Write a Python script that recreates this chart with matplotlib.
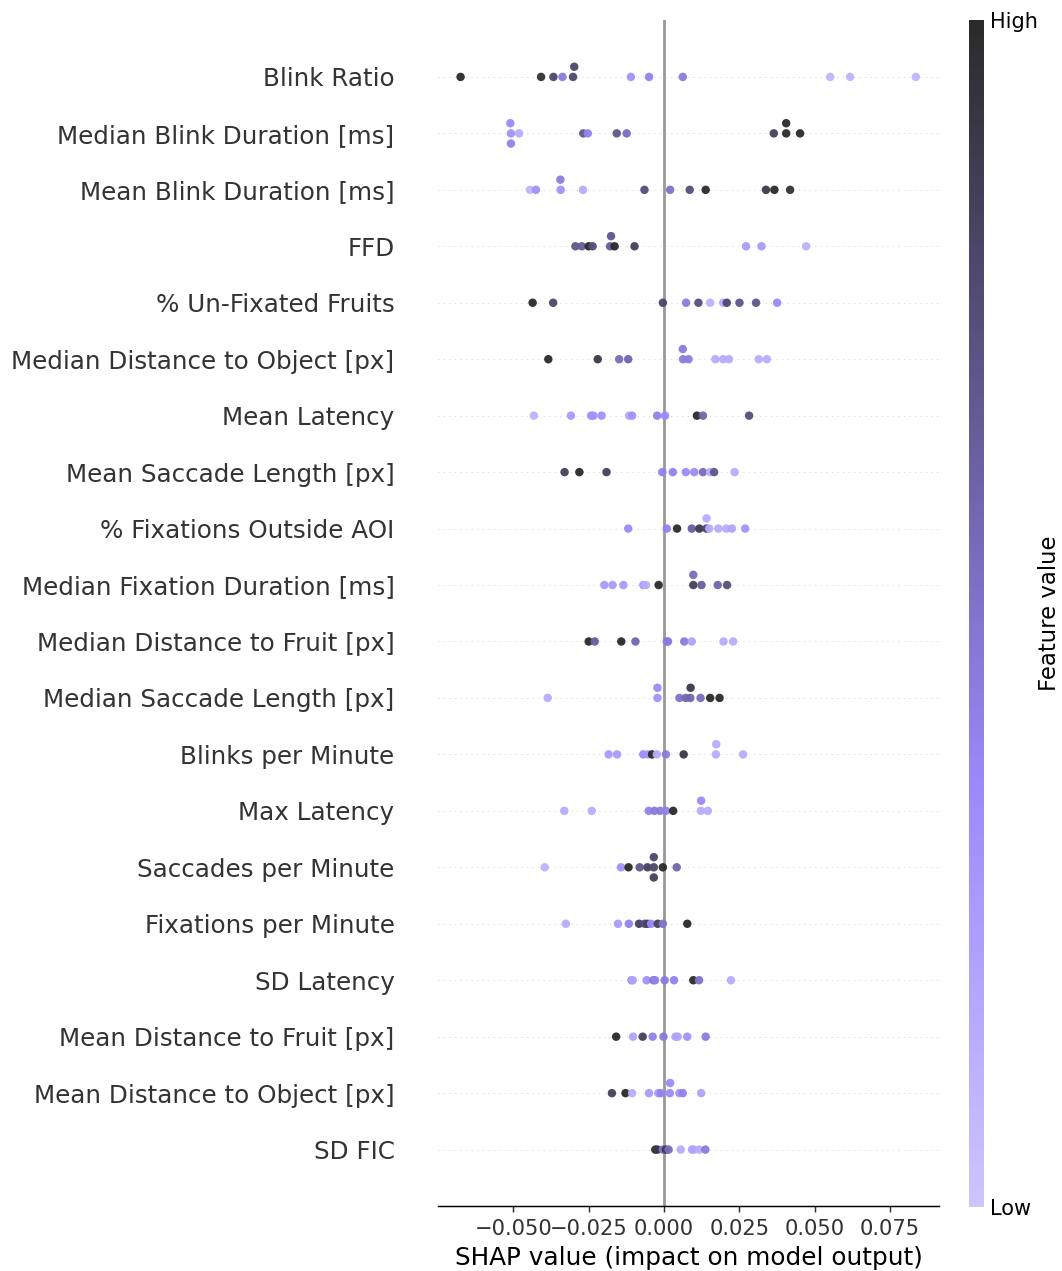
import numpy as np
import matplotlib
matplotlib.use("Agg")
import matplotlib.pyplot as plt
from matplotlib.colors import LinearSegmentedColormap

features = [
    "Blink Ratio", "Median Blink Duration [ms]", "Mean Blink Duration [ms]", "FFD",
    "% Un-Fixated Fruits", "Median Distance to Object [px]", "Mean Latency",
    "Mean Saccade Length [px]", "% Fixations Outside AOI", "Median Fixation Duration [ms]",
    "Median Distance to Fruit [px]", "Median Saccade Length [px]", "Blinks per Minute",
    "Max Latency", "Saccades per Minute", "Fixations per Minute", "SD Latency",
    "Mean Distance to Fruit [px]", "Mean Distance to Object [px]", "SD FIC",
]

# shap values per feature (same order as features)
shap_vals = [
    [-0.0675, -0.0408, -0.0367, -0.0337, -0.0302, -0.0298, -0.011, -0.005, 0.0062, 0.0551, 0.0617, 0.0835],
    [-0.0508, -0.0510, -0.0508, -0.0481, -0.0268, -0.0253, -0.0157, -0.0124, 0.0364, 0.0405, 0.0405, 0.0451],
    [-0.0445, -0.0425, -0.0343, -0.0344, -0.0269, -0.0065, 0.002, 0.0085, 0.0138, 0.0338, 0.0366, 0.0418],
    [-0.0294, -0.0273, -0.025, -0.0237, -0.0179, -0.0176, -0.0164, -0.0098, 0.0272, 0.0323, 0.0471],
    [-0.0436, -0.0368, -0.0004, 0.0073, 0.0114, 0.0153, 0.0196, 0.0208, 0.025, 0.0305, 0.0375],
    [-0.0384, -0.022, -0.0149, -0.0119, 0.0063, 0.0062, 0.0081, 0.017, 0.0196, 0.0215, 0.0314, 0.0341],
    [-0.0432, -0.0309, -0.0242, -0.0234, -0.0207, -0.0116, -0.0106, -0.0023, 0.0003, 0.0109, 0.0129, 0.0282],
    [-0.033, -0.0281, -0.0191, -0.0006, 0.0029, 0.0072, 0.01, 0.0129, 0.0153, 0.0166, 0.0234],
    [-0.0119, 0.0009, 0.0043, 0.0092, 0.0117, 0.0140, 0.0141, 0.015, 0.018, 0.0206, 0.0225, 0.0269],
    [-0.0198, -0.0171, -0.0135, -0.0069, -0.006, -0.0018, 0.0097, 0.0097, 0.0124, 0.0178, 0.0209],
    [-0.025, -0.023, -0.0142, -0.0095, 0.0009, 0.0013, 0.0067, 0.0092, 0.0197, 0.0229],
    [-0.0386, -0.0022, -0.0022, 0.0051, 0.0072, 0.0087, 0.0088, 0.0121, 0.0153, 0.0184],
    [-0.0184, -0.0156, -0.0069, -0.0053, -0.004, -0.0024, 0.0006, 0.0065, 0.0172, 0.0173, 0.0262],
    [-0.0331, -0.024, -0.0051, -0.0032, -0.0013, 0.0006, 0.003, 0.0122, 0.0123, 0.0145],
    [-0.0396, -0.0143, -0.0118, -0.0081, -0.0055, -0.0034, -0.0034, -0.0034, -0.0004, 0.0042],
    [-0.0326, -0.0153, -0.0117, -0.0083, -0.0064, -0.0055, -0.0043, -0.0021, -0.0004, 0.0077],
    [-0.0108, -0.0104, -0.0058, -0.0035, -0.003, 0.0002, 0.0033, 0.0097, 0.0116, 0.0222],
    [-0.0159, -0.0103, -0.0071, -0.0038, -0.0002, 0.0038, 0.0045, 0.0077, 0.0138],
    [-0.0173, -0.0128, -0.0106, -0.005, -0.0019, -0.0011, 0.0019, 0.0020, 0.0051, 0.0062, 0.0123],
    [-0.0029, -0.0022, -0.0004, 0.0006, 0.0015, 0.0055, 0.0093, 0.0098, 0.0116, 0.0137],
]

# normalised feature values (0 = low, 1 = high)
feat_vals = [
    [1.0, 0.95, 0.8, 0.45, 0.8, 0.8, 0.3, 0.4, 0.45, 0.1, 0.1, 0.1],
    [0.3, 0.35, 0.4, 0.15, 0.7, 0.4, 0.7, 0.55, 0.85, 1.0, 1.0, 1.0],
    [0.1, 0.3, 0.3, 0.45, 0.15, 0.75, 0.5, 0.75, 1.0, 0.9, 1.0, 0.95],
    [0.7, 0.65, 1.0, 0.75, 0.65, 0.7, 1.0, 0.85, 0.25, 0.25, 0.12],
    [1.0, 0.8, 0.8, 0.45, 0.75, 0.12, 0.15, 0.8, 0.7, 0.7, 0.35],
    [1.0, 0.9, 0.55, 0.6, 0.45, 0.45, 0.45, 0.15, 0.15, 0.15, 0.15, 0.15],
    [0.1, 0.25, 0.3, 0.3, 0.3, 0.15, 0.3, 0.4, 0.35, 1.0, 0.6, 0.75],
    [0.85, 1.0, 0.85, 0.4, 0.4, 0.35, 0.35, 0.55, 0.15, 0.7, 0.15],
    [0.35, 0.4, 1.0, 0.65, 0.9, 0.8, 0.15, 0.15, 0.15, 0.15, 0.2, 0.3],
    [0.25, 0.25, 0.25, 0.25, 0.15, 1.0, 0.85, 0.55, 0.65, 0.6, 0.75],
    [1.0, 0.65, 1.0, 0.6, 0.45, 0.45, 0.45, 0.2, 0.15, 0.15],
    [0.15, 0.3, 0.35, 0.5, 0.6, 0.6, 0.9, 0.55, 1.0, 1.0],
    [0.25, 0.25, 0.35, 0.3, 1.0, 0.15, 0.45, 0.9, 0.15, 0.15, 0.15],
    [0.15, 0.15, 0.4, 0.45, 0.45, 0.4, 1.0, 0.15, 0.35, 0.15],
    [0.12, 0.3, 1.0, 0.7, 0.85, 0.8, 0.8, 0.85, 1.0, 0.6],
    [0.15, 0.25, 0.4, 0.85, 0.75, 0.85, 0.35, 0.85, 0.5, 1.0],
    [0.35, 0.2, 0.3, 0.5, 0.4, 0.45, 0.4, 1.0, 0.5, 0.15],
    [1.0, 0.2, 0.85, 0.4, 0.45, 0.2, 0.2, 0.3, 0.45],
    [0.85, 1.0, 0.15, 0.25, 0.25, 0.4, 0.35, 0.35, 0.3, 0.4, 0.2],
    [1.0, 0.9, 0.5, 0.9, 0.55, 0.15, 0.2, 0.2, 0.15, 0.45],
]

cmap = LinearSegmentedColormap.from_list(
    "lav", [(0.0, "#CCC5FF"), (0.36, "#9A88FA"), (1.0, "#2A2A2A")])

axis_color = "#333333"
row_height = 0.4
n = len(features)

dpi = 133
fig = plt.figure(figsize=(1062 / dpi, 1271 / dpi), dpi=dpi)
ax = fig.add_axes([0.4124, 0.0511, 0.4718, 0.9328])

ax.axvline(x=0, color="#999999", zorder=-1)

for i, name in enumerate(features):
    pos = n - 1 - i
    ax.axhline(y=pos, color="#cccccc", lw=0.5, dashes=(1, 5), zorder=-1)
    shaps = np.array(shap_vals[i])
    vals = np.array(feat_vals[i])
    # beeswarm: stack points that fall into the same bin
    nbins = 100
    quant = np.round(nbins * (shaps - shaps.min()) / (shaps.max() - shaps.min() + 1e-8))
    inds = np.argsort(quant, kind="stable")
    layer = 0
    last_bin = -1
    ys = np.zeros(len(shaps))
    for ind in inds:
        if quant[ind] != last_bin:
            layer = 0
        ys[ind] = np.ceil(layer / 2) * ((layer % 2) * 2 - 1)
        layer += 1
        last_bin = quant[ind]
    ys *= 0.9 * (row_height / np.max(ys + 1))
    ax.scatter(shaps, pos + ys, c=vals, cmap=cmap, vmin=0, vmax=1, s=21,
               linewidth=0, alpha=0.95, zorder=3)

ax.set_ylim(-1, n)
ax.set_xlim(-0.075, 0.0912)
ax.set_yticks(range(n))
ax.set_yticklabels(features[::-1], fontsize=13.35)
ax.set_xticks([-0.05, -0.025, 0.0, 0.025, 0.05, 0.075])
ax.set_xticklabels(["\u22120.050", "\u22120.025", "0.000", "0.025", "0.050", "0.075"])
ax.xaxis.set_ticks_position("bottom")
ax.yaxis.set_ticks_position("none")
ax.spines["right"].set_visible(False)
ax.spines["top"].set_visible(False)
ax.spines["left"].set_visible(False)
ax.tick_params(color=axis_color, labelcolor=axis_color)
ax.tick_params("y", length=20, width=0.5, which="major")
ax.tick_params("x", labelsize=11.4)
ax.set_xlabel("SHAP value (impact on model output)", fontsize=13.4)

# colour bar
cax = fig.add_axes([0.9124, 0.0504, 0.0141, 0.9339])
sm = plt.cm.ScalarMappable(cmap=cmap, norm=plt.Normalize(0, 1))
cb = fig.colorbar(sm, cax=cax, ticks=[0, 1])
cb.set_ticklabels(["Low", "High"])
cb.set_label("Feature value", size=12.3, labelpad=0)
cb.ax.tick_params(labelsize=11.3, length=0)
cb.outline.set_visible(False)

fig.savefig("out.png", dpi=dpi)
